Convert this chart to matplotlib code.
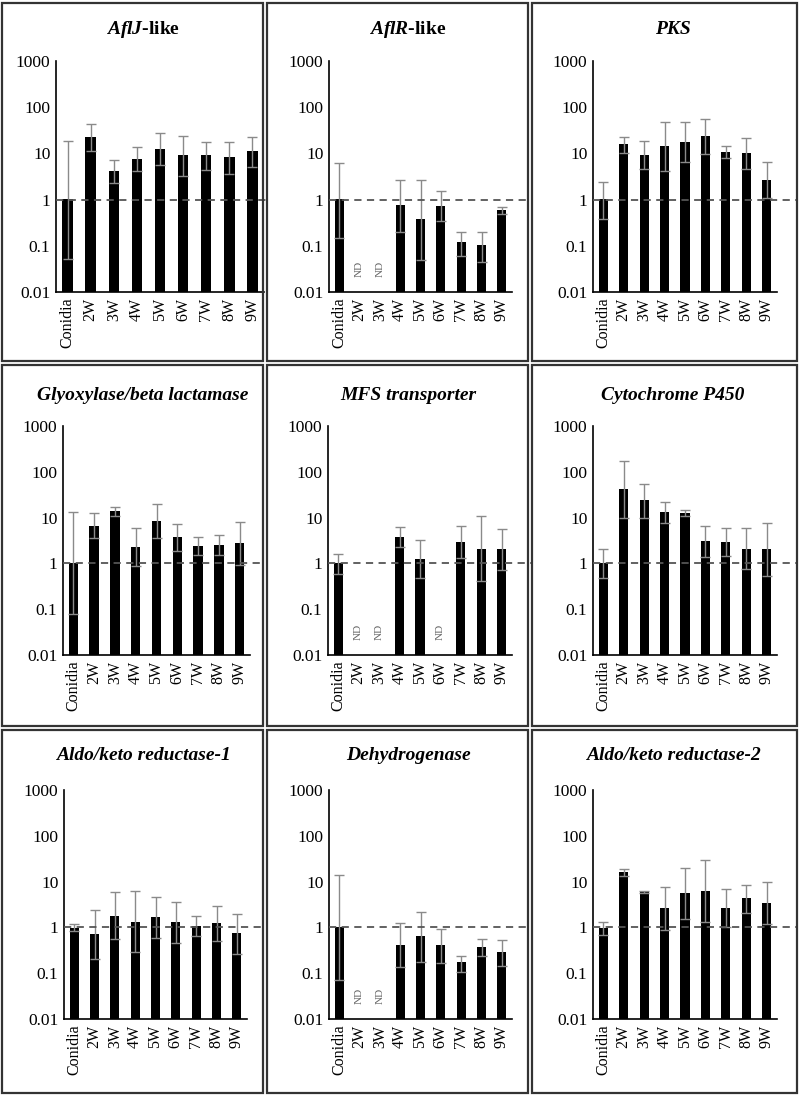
import numpy as np
import matplotlib
matplotlib.use("Agg")
import matplotlib.pyplot as plt
from matplotlib.patches import Rectangle

plt.rcParams['font.family'] = ['Liberation Serif', 'DejaVu Serif']
plt.rcParams['mathtext.fontset'] = 'custom'
plt.rcParams['mathtext.it'] = 'Liberation Serif:italic:bold'
plt.rcParams['mathtext.rm'] = 'Liberation Serif:bold'

samples = ['Conidia', '2W', '3W', '4W', '5W', '6W', '7W', '8W', '9W']

titles = [r'$\mathit{AflJ}$-like', r'$\mathit{AflR}$-like', 'PKS',
          'Glyoxylase/beta lactamase', 'MFS transporter', 'Cytochrome P450',
          'Aldo/keto reductase-1', 'Dehydrogenase', 'Aldo/keto reductase-2']

# mean fold change, upper and lower end of error bar (None = not detected)
aflj_mean = [1, 23, 4.25, 7.7, 12.5, 9, 9.1, 8.3, 11]
aflj_hi = [19, 43.6, 7.3, 13.6, 27, 23.5, 17.7, 17.7, 22.4]
aflj_lo = [0.052, 11, 2.3, 4.1, 5.7, 3.3, 4.4, 3.6, 5.1]

aflr_mean = [1, None, None, 0.74, 0.37, 0.72, 0.11, 0.095, 0.58]
aflr_hi = [6.3, None, None, 2.7, 2.7, 1.5, 0.195, 0.2, 0.68]
aflr_lo = [0.15, None, None, 0.2, 0.049, 0.34, 0.061, 0.044, 0.49]

pks_mean = [1, 15.7, 9.4, 14.2, 18, 23.8, 10.7, 10, 2.7]
pks_hi = [2.46, 22.6, 18.3, 49, 48, 56, 14.4, 21.5, 6.5]
pks_lo = [0.38, 10.2, 4.6, 4.1, 6.5, 9.5, 7.8, 4.6, 1.07]

glyox_mean = [1, 6.5, 13.6, 2.27, 8.5, 3.8, 2.39, 2.55, 2.73]
glyox_hi = [13, 12.3, 16.7, 5.8, 20.3, 7.3, 3.7, 4.15, 7.85]
glyox_lo = [0.078, 3.5, 10.6, 0.86, 3.6, 1.86, 1.52, 1.52, 0.94]

mfs_mean = [1, None, None, 3.8, 1.26, None, 2.87, 2.1, 2.05]
mfs_hi = [1.6, None, None, 6.2, 3.3, None, 6.4, 10.8, 5.5]
mfs_lo = [0.59, None, None, 2.3, 0.48, None, 1.28, 0.41, 0.73]

cyp_mean = [1, 42, 23.7, 13.4, 12.5, 3.1, 2.97, 2.09, 2.02]
cyp_hi = [2.05, 168, 53, 22, 15, 6.7, 5.9, 5.9, 7.6]
cyp_lo = [0.48, 10, 10, 7.8, 10.6, 1.35, 1.45, 0.74, 0.52]

akr1_mean = [0.95, 0.69, 1.8, 1.33, 1.65, 1.29, 1.09, 1.22, 0.73]
akr1_hi = [1.18, 2.4, 5.8, 6.1, 4.5, 3.5, 1.8, 3.0, 2.0]
akr1_lo = [0.85, 0.2, 0.56, 0.29, 0.59, 0.46, 0.66, 0.5, 0.26]

dh_mean = [1, None, None, 0.41, 0.64, 0.4, 0.164, 0.37, 0.28]
dh_hi = [13.6, None, None, 1.24, 2.2, 0.9, 0.24, 0.57, 0.52]
dh_lo = [0.07, None, None, 0.137, 0.18, 0.17, 0.108, 0.24, 0.144]

akr2_mean = [0.97, 15.8, 6.0, 2.64, 5.6, 6.2, 2.64, 4.3, 3.4]
akr2_hi = [1.33, 19.3, 6.3, 7.8, 19.6, 29.3, 6.8, 8.6, 9.6]
akr2_lo = [0.69, 13.4, 5.5, 0.89, 1.52, 1.28, 1.0, 2.1, 1.16]

means = [aflj_mean, aflr_mean, pks_mean, glyox_mean, mfs_mean, cyp_mean,
         akr1_mean, dh_mean, akr2_mean]
his = [aflj_hi, aflr_hi, pks_hi, glyox_hi, mfs_hi, cyp_hi, akr1_hi, dh_hi, akr2_hi]
los = [aflj_lo, aflr_lo, pks_lo, glyox_lo, mfs_lo, cyp_lo, akr1_lo, dh_lo, akr2_lo]

W, H = 800, 1096
fig = plt.figure(figsize=(W / 100, H / 100), dpi=100)

# layout in pixels
col_edges = [0, 265, 530, 799]
row_edges = [1, 363, 728, 1095]
row_top = [61, 426, 790]
row_bot = [292, 655, 1019]
title_y = [30, 395, 755]
ax_left = [[56, 329, 593], [63, 328, 593], [64, 329, 593]]
ax_right = [[264, 512, 777], [250, 512, 777], [247, 512, 777]]
dash_end = [[266, 531, 797], [262, 531, 797], [262, 531, 797]]

for r in range(3):
    for c in range(3):
        fig.add_artist(Rectangle((col_edges[c] / W + 0.002, 1 - row_edges[r + 1] / H + 0.002),
                                 (col_edges[c + 1] - col_edges[c]) / W - 0.004,
                                 (row_edges[r + 1] - row_edges[r]) / H - 0.004,
                                 transform=fig.transFigure, fill=False,
                                 edgecolor='#333333', lw=1.6))

for k in range(9):
    r, c = divmod(k, 3)
    left = ax_left[r][c]
    spacing = (ax_right[r][c] - left) / 9
    ax = fig.add_axes([left / W, 1 - row_bot[r] / H,
                       (dash_end[r][c] - left) / W, (row_bot[r] - row_top[r]) / H])
    ax.set_yscale('log')
    ax.set_ylim(0.01, 1000)
    ax.set_xlim(-0.5, -0.5 + (dash_end[r][c] - left) / spacing)

    x = np.arange(len(samples))
    for i in x:
        m = means[k][i]
        if m is None:
            ax.text(i, 0.032, 'ND', rotation=90, ha='center', va='center',
                    fontsize=8, color='#666666')
            continue
        ax.bar(i, m, width=0.45, bottom=0.01, color='black', zorder=2)
        ax.errorbar(i, m, yerr=[[m - los[k][i]], [his[k][i] - m]], fmt='none',
                    ecolor='#8a8a8a', elinewidth=1.0, capsize=3.5, capthick=1.0,
                    zorder=3)

    ax.axhline(1, color='#555555', lw=1.3, ls=(0, (4, 3)), zorder=4)

    ax.set_xticks(x)
    ax.set_xticklabels(samples, rotation=90, fontsize=11.5)
    ax.set_yticks([0.01, 0.1, 1, 10, 100, 1000])
    ax.set_yticklabels(['0.01', '0.1', '1', '10', '100', '1000'], fontsize=12.5)
    ax.minorticks_off()
    ax.tick_params(length=0, pad=4)
    for s in ['top', 'right']:
        ax.spines[s].set_visible(False)
    ax.spines['bottom'].set_bounds(-0.5, 8.5)
    ax.spines['left'].set_linewidth(1.2)
    ax.spines['bottom'].set_linewidth(1.2)
    ax.patch.set_alpha(0)

    if k < 2:
        fig.text((col_edges[c] + 143) / W, 1 - title_y[r] / H, titles[k],
                 ha='center', va='center', fontsize=14, fontweight='bold')
    else:
        fig.text((col_edges[c] + 143) / W, 1 - title_y[r] / H, titles[k],
                 ha='center', va='center', fontsize=14, fontweight='bold',
                 fontstyle='italic')

fig.savefig('out.png', dpi=100)
